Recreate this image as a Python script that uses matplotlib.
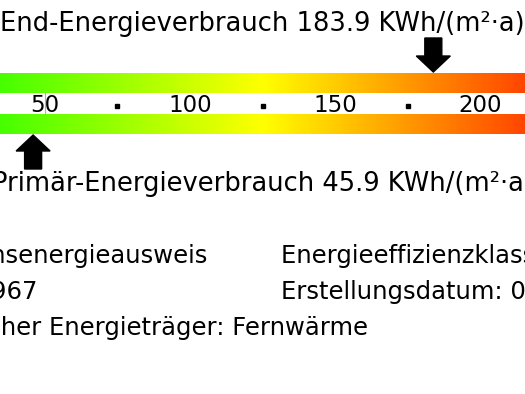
import numpy as np
import matplotlib
matplotlib.use("Agg")
import matplotlib.pyplot as plt
from matplotlib.colors import LinearSegmentedColormap
from matplotlib.patches import Polygon

# scale values (kWh/(m²·a))
scale_min, scale_max = 0, 250
scale_ticks = [50, 100, 150, 200]
scale_dots = [75, 125, 175]
marker_line = 50
end_energy = 183.9
primary_energy = 45.9

title_end = "End-Energieverbrauch 183.9 KWh/(m²·a)"
title_primary = "Primär-Energieverbrauch 45.9 KWh/(m²·a)"
info_left = ["Verbrauchsenergieausweis", "Baujahr: 1967",
             "Wesentlicher Energieträger: Fernwärme"]
info_left_end = [208, 37, 368]          # right end of each line, px
info_right = ["Energieeffizienzklasse: F", "Erstellungsdatum: 01.03.2018"]

# pixel -> value: x_px = -100 + 2.9 * value
px_per_unit = 2.9
x0_px = -100
W, H = 525, 394

def to_val(px):
    return (px - x0_px) / px_per_unit

fig = plt.figure(figsize=(W / 100, H / 100), dpi=100)
ax = fig.add_axes([0, 0, 1, 1])
ax.set_xlim(to_val(0), to_val(W))
ax.set_ylim(H, 0)
ax.axis("off")

cm = LinearSegmentedColormap.from_list("ampel", [(0, 1, 0), (1, 1, 0), (1, 0, 0)], N=256)
grad = np.linspace(0, 1, 500).reshape(1, -1)

# two gradient bars
for top, bot in [(73, 93), (114, 134)]:
    ax.imshow(grad, cmap=cm, aspect="auto", extent=(scale_min, scale_max, bot, top),
              interpolation="bilinear", zorder=1)

# scale labels and dots
for t in scale_ticks:
    ax.text(t, 112, str(t), ha="center", va="baseline", fontsize=16.5,
            color="black", zorder=3)
ax.plot(scale_dots, [106] * len(scale_dots), ls="none", marker="s", ms=3,
        color="black", zorder=3)
ax.plot([marker_line, marker_line], [93, 113], color="#b0b0b0", lw=0.8, zorder=2)

# arrows
u = 1 / px_per_unit
def arrow(xv, tip_y, direction):
    # direction +1 points down, -1 points up
    hw, sw, hl, L = 17 * u, 8.5 * u, 16, 34
    base = tip_y - direction * hl
    tail = tip_y - direction * L
    pts = [(xv, tip_y), (xv - hw, base), (xv - sw, base), (xv - sw, tail),
           (xv + sw, tail), (xv + sw, base), (xv + hw, base)]
    ax.add_patch(Polygon(pts, closed=True, color="black", zorder=4))

arrow(end_energy, 72, 1)
arrow(primary_energy, 135, -1)

# titles, centred on the middle of the scale
mid = (scale_min + scale_max) / 2
ax.text(mid, 31, title_end, ha="center", va="baseline", fontsize=18.5, color="black")
ax.text(mid, 191, title_primary, ha="center", va="baseline", fontsize=18.5, color="black")

# info block
for i, (s, e) in enumerate(zip(info_left, info_left_end)):
    ax.text(to_val(e), 263 + 36 * i, s, ha="right", va="baseline", fontsize=17.5,
            color="black")
for i, s in enumerate(info_right):
    ax.text(to_val(281), 263 + 36 * i, s, ha="left", va="baseline",
            fontsize=17.5, color="black")

fig.savefig("out.png", dpi=100)
